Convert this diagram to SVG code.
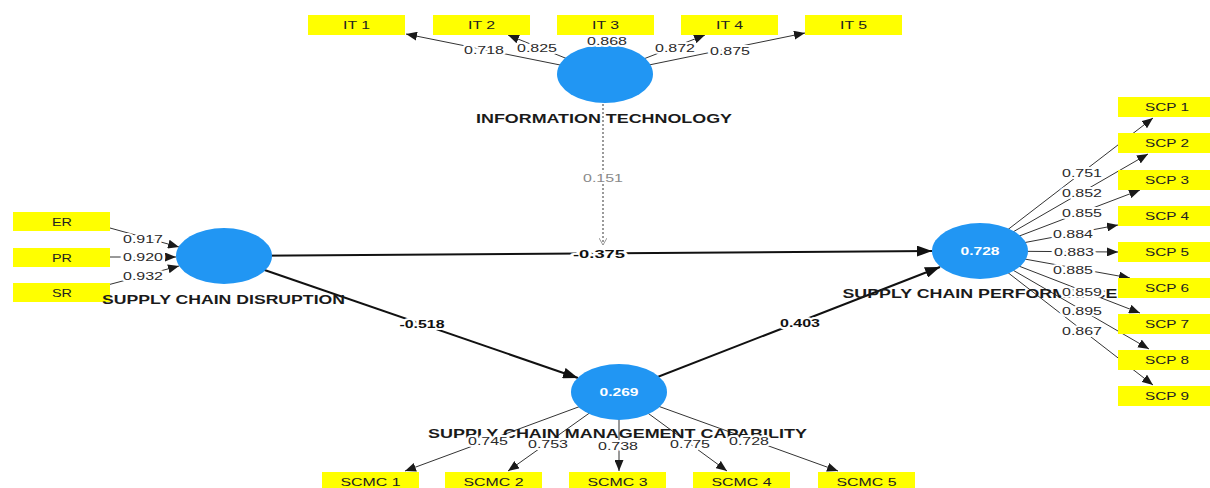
<svg xmlns="http://www.w3.org/2000/svg" width="1210" height="488" viewBox="0 0 1210 488">
<style>
.bg{fill:#ffffff}
.b{fill:#ffff00}
.n{fill:#2196f3}
.t{font-family:"Liberation Sans",Arial,sans-serif;font-size:11px;fill:#222;text-anchor:middle}
.c{font-family:"Liberation Sans",Arial,sans-serif;font-size:13px;font-weight:bold;fill:#1a1a1a;text-anchor:middle}
.r{font-family:"Liberation Sans",Arial,sans-serif;font-size:11px;font-weight:bold;fill:#ffffff;text-anchor:middle}
.v{font-family:"Liberation Sans",Arial,sans-serif;font-size:11px;fill:#2a2a2a;text-anchor:middle;stroke:#ffffff;stroke-width:4px;stroke-linejoin:round;paint-order:stroke}
.vb{font-weight:bold;fill:#111}
.vg{fill:#8a8a8a}
.o{stroke:#333;stroke-width:1;fill:none;marker-end:url(#a)}
.p{stroke:#111;stroke-width:2;fill:none;marker-end:url(#A)}
.d{stroke:#9a9a9a;stroke-width:2;stroke-dasharray:2 2;fill:none;marker-end:url(#g)}
</style>
<defs>
<marker id="a" viewBox="0 0 11 9" refX="11" refY="4.5" markerWidth="11" markerHeight="9" markerUnits="userSpaceOnUse" orient="auto"><path d="M0,0 L11,4.5 L0,9 z" fill="#1a1a1a"/></marker>
<marker id="A" viewBox="0 0 15 11" refX="15" refY="5.5" markerWidth="15" markerHeight="11" markerUnits="userSpaceOnUse" orient="auto"><path d="M0,0 L15,5.5 L0,11 z" fill="#111"/></marker>
<marker id="g" viewBox="0 0 8 8" refX="7" refY="4" markerWidth="8" markerHeight="8" markerUnits="userSpaceOnUse" orient="auto"><path d="M0,0 L7,4 L0,8" fill="none" stroke="#9a9a9a" stroke-width="1"/></marker>
</defs>
<rect class="bg" x="0" y="0" width="1210" height="488"/>

<g id="connectors">
<path class="o" d="M605,74 L406,34"/>
<path class="o" d="M605,74 L508,35"/>
<path class="o" d="M605,74 L605,35"/>
<path class="o" d="M605,74 L705,35"/>
<path class="o" d="M605,74 L805,33"/>
<path class="o" d="M110,228 L179,247"/>
<path class="o" d="M100,257 L176,257"/>
<path class="o" d="M100,287 L179,266"/>
<path class="o" d="M980,251 L1153,118"/>
<path class="o" d="M980,251 L1148,154"/>
<path class="o" d="M980,251 L1140,190"/>
<path class="o" d="M980,251 L1118,225"/>
<path class="o" d="M980,251 L1118,252"/>
<path class="o" d="M980,251 L1130,278"/>
<path class="o" d="M980,251 L1140,313"/>
<path class="o" d="M980,251 L1149,349"/>
<path class="o" d="M980,251 L1153,385"/>
<path class="o" d="M619,392 L405,471"/>
<path class="o" d="M619,392 L508,471"/>
<path class="o" d="M619,392 L619,471"/>
<path class="o" d="M619,392 L727,471"/>
<path class="o" d="M619,392 L838,471"/>
<path class="p" d="M224,256 L932,251"/>
<path class="p" d="M224,256 L578,378"/>
<path class="p" d="M619,392 L940,267"/>
<path class="d" d="M603,104 L603,245"/>
</g>

<g id="it1"><rect class="b" x="308" y="15" width="97" height="20"/><text class="t" x="356.5" y="29" textLength="27" lengthAdjust="spacingAndGlyphs">IT 1</text></g>
<g id="it2"><rect class="b" x="433" y="15" width="97" height="20"/><text class="t" x="481.5" y="29" textLength="27" lengthAdjust="spacingAndGlyphs">IT 2</text></g>
<g id="it3"><rect class="b" x="557" y="15" width="97" height="20"/><text class="t" x="605.5" y="29" textLength="27" lengthAdjust="spacingAndGlyphs">IT 3</text></g>
<g id="it4"><rect class="b" x="681" y="15" width="97" height="20"/><text class="t" x="729.5" y="29" textLength="27" lengthAdjust="spacingAndGlyphs">IT 4</text></g>
<g id="it5"><rect class="b" x="805" y="15" width="97" height="20"/><text class="t" x="853.5" y="29" textLength="27" lengthAdjust="spacingAndGlyphs">IT 5</text></g>

<g id="er"><rect class="b" x="13" y="212" width="97" height="19"/><text class="t" x="62" y="225.5" textLength="20" lengthAdjust="spacingAndGlyphs">ER</text></g>
<g id="pr"><rect class="b" x="13" y="248" width="97" height="19"/><text class="t" x="62" y="261.5" textLength="20" lengthAdjust="spacingAndGlyphs">PR</text></g>
<g id="sr"><rect class="b" x="13" y="283" width="97" height="19"/><text class="t" x="62" y="296.5" textLength="20" lengthAdjust="spacingAndGlyphs">SR</text></g>

<g id="scp1"><rect class="b" x="1118" y="97" width="97" height="20"/><text class="t" x="1167" y="111" textLength="44" lengthAdjust="spacingAndGlyphs">SCP 1</text></g>
<g id="scp2"><rect class="b" x="1118" y="133" width="97" height="20"/><text class="t" x="1167" y="147" textLength="44" lengthAdjust="spacingAndGlyphs">SCP 2</text></g>
<g id="scp3"><rect class="b" x="1118" y="170" width="97" height="20"/><text class="t" x="1167" y="184" textLength="44" lengthAdjust="spacingAndGlyphs">SCP 3</text></g>
<g id="scp4"><rect class="b" x="1118" y="206" width="97" height="20"/><text class="t" x="1167" y="220" textLength="44" lengthAdjust="spacingAndGlyphs">SCP 4</text></g>
<g id="scp5"><rect class="b" x="1118" y="242" width="97" height="20"/><text class="t" x="1167" y="256" textLength="44" lengthAdjust="spacingAndGlyphs">SCP 5</text></g>
<g id="scp6"><rect class="b" x="1118" y="278" width="97" height="20"/><text class="t" x="1167" y="292" textLength="44" lengthAdjust="spacingAndGlyphs">SCP 6</text></g>
<g id="scp7"><rect class="b" x="1118" y="314" width="97" height="20"/><text class="t" x="1167" y="328" textLength="44" lengthAdjust="spacingAndGlyphs">SCP 7</text></g>
<g id="scp8"><rect class="b" x="1118" y="350" width="97" height="20"/><text class="t" x="1167" y="364" textLength="44" lengthAdjust="spacingAndGlyphs">SCP 8</text></g>
<g id="scp9"><rect class="b" x="1118" y="386" width="97" height="20"/><text class="t" x="1167" y="400" textLength="44" lengthAdjust="spacingAndGlyphs">SCP 9</text></g>

<g id="scmc1"><rect class="b" x="322" y="472" width="97" height="20"/><text class="t" x="370.5" y="486" textLength="60" lengthAdjust="spacingAndGlyphs">SCMC 1</text></g>
<g id="scmc2"><rect class="b" x="445" y="472" width="97" height="20"/><text class="t" x="493.5" y="486" textLength="60" lengthAdjust="spacingAndGlyphs">SCMC 2</text></g>
<g id="scmc3"><rect class="b" x="569" y="472" width="97" height="20"/><text class="t" x="617.5" y="486" textLength="60" lengthAdjust="spacingAndGlyphs">SCMC 3</text></g>
<g id="scmc4"><rect class="b" x="693" y="472" width="97" height="20"/><text class="t" x="741.5" y="486" textLength="60" lengthAdjust="spacingAndGlyphs">SCMC 4</text></g>
<g id="scmc5"><rect class="b" x="818" y="472" width="97" height="20"/><text class="t" x="866.5" y="486" textLength="60" lengthAdjust="spacingAndGlyphs">SCMC 5</text></g>

<g id="information-technology"><ellipse class="n" cx="605" cy="74" rx="48" ry="29"/><text class="c" x="604" y="123" textLength="256" lengthAdjust="spacingAndGlyphs">INFORMATION TECHNOLOGY</text></g>
<g id="supply-chain-disruption"><ellipse class="n" cx="224" cy="256" rx="48" ry="28"/><text class="c" x="223.5" y="304" textLength="243" lengthAdjust="spacingAndGlyphs">SUPPLY CHAIN DISRUPTION</text></g>
<g id="supply-chain-performance"><ellipse class="n" cx="980" cy="251" rx="48" ry="28"/><text class="r" x="980" y="255" textLength="39" lengthAdjust="spacingAndGlyphs">0.728</text><text class="c" x="980" y="298" textLength="275" lengthAdjust="spacingAndGlyphs">SUPPLY CHAIN PERFORMANCE</text></g>
<g id="supply-chain-management-capability"><ellipse class="n" cx="619" cy="392" rx="48" ry="28"/><text class="r" x="619" y="396" textLength="39" lengthAdjust="spacingAndGlyphs">0.269</text><text class="c" x="617.5" y="438" textLength="379" lengthAdjust="spacingAndGlyphs">SUPPLY CHAIN MANAGEMENT CAPABILITY</text></g>

<g id="connector-labels">
<text class="v" x="484" y="54" textLength="40" lengthAdjust="spacingAndGlyphs">0.718</text>
<text class="v" x="537" y="52" textLength="40" lengthAdjust="spacingAndGlyphs">0.825</text>
<text class="v" x="607" y="45" textLength="40" lengthAdjust="spacingAndGlyphs">0.868</text>
<text class="v" x="675" y="52" textLength="40" lengthAdjust="spacingAndGlyphs">0.872</text>
<text class="v" x="730" y="55" textLength="40" lengthAdjust="spacingAndGlyphs">0.875</text>
<text class="v" x="143" y="243" textLength="40" lengthAdjust="spacingAndGlyphs">0.917</text>
<text class="v" x="143" y="261" textLength="40" lengthAdjust="spacingAndGlyphs">0.920</text>
<text class="v" x="143" y="280" textLength="40" lengthAdjust="spacingAndGlyphs">0.932</text>
<text class="v" x="1082" y="177" textLength="40" lengthAdjust="spacingAndGlyphs">0.751</text>
<text class="v" x="1082" y="197" textLength="40" lengthAdjust="spacingAndGlyphs">0.852</text>
<text class="v" x="1082" y="217" textLength="40" lengthAdjust="spacingAndGlyphs">0.855</text>
<text class="v" x="1073" y="238" textLength="40" lengthAdjust="spacingAndGlyphs">0.884</text>
<text class="v" x="1074" y="256" textLength="40" lengthAdjust="spacingAndGlyphs">0.883</text>
<text class="v" x="1073" y="274" textLength="40" lengthAdjust="spacingAndGlyphs">0.885</text>
<text class="v" x="1082" y="296" textLength="40" lengthAdjust="spacingAndGlyphs">0.859</text>
<text class="v" x="1082" y="315" textLength="40" lengthAdjust="spacingAndGlyphs">0.895</text>
<text class="v" x="1082" y="335" textLength="40" lengthAdjust="spacingAndGlyphs">0.867</text>
<text class="v" x="488" y="445" textLength="40" lengthAdjust="spacingAndGlyphs">0.745</text>
<text class="v" x="548" y="448" textLength="40" lengthAdjust="spacingAndGlyphs">0.753</text>
<text class="v" x="618" y="450" textLength="40" lengthAdjust="spacingAndGlyphs">0.738</text>
<text class="v" x="690" y="448" textLength="40" lengthAdjust="spacingAndGlyphs">0.775</text>
<text class="v" x="749" y="445" textLength="40" lengthAdjust="spacingAndGlyphs">0.728</text>
<text class="v vb" x="599" y="258" textLength="52" lengthAdjust="spacingAndGlyphs">-0.375</text>
<text class="v vb" x="422" y="328" textLength="45" lengthAdjust="spacingAndGlyphs">-0.518</text>
<text class="v vb" x="800" y="327" textLength="40" lengthAdjust="spacingAndGlyphs">0.403</text>
<text class="v vg" x="603" y="182" textLength="40" lengthAdjust="spacingAndGlyphs">0.151</text>
</g>
</svg>
